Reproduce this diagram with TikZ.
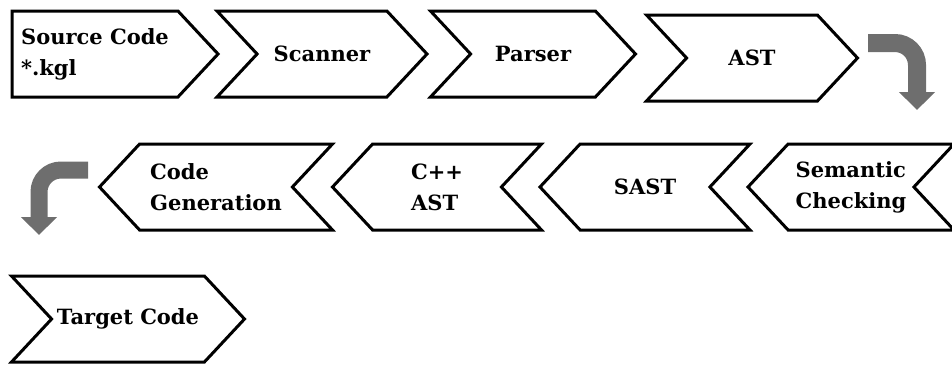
\documentclass[tikz,border=0pt]{standalone}
\usepackage{fontspec}
\setmainfont{DejaVu Serif}
\usetikzlibrary{shapes.symbols,arrows.meta}

\definecolor{turngray}{HTML}{6E6E6E}

\tikzset{
  stage/.style={signal, draw, line width=3pt, fill=white, minimum height=86pt,
    signal pointer angle=94, inner sep=0pt, align=left,
    font=\bfseries\fontsize{21}{31}\selectfont},
  fwd/.style={stage, signal to=east, signal from=west},
  bwd/.style={stage, signal to=west, signal from=east},
  turn/.style={draw=turngray, line width=18pt, rounded corners=22pt,
    -{Triangle[width=35pt,length=18pt]}}
}

\begin{document}
\begin{tikzpicture}[x=1pt,y=1pt]
  \useasboundingbox (0,0) rectangle (952,-365);

  % first row, left to right
  \node[fwd, signal from=nowhere, minimum width=206pt] (src) at (95,-54) {Source Code\\*.kgl};
  \node[fwd, minimum width=210pt] (scan) at (322,-54) {Scanner};
  \node[fwd, minimum width=205pt] (parse) at (533,-54) {Parser};
  \node[fwd, minimum width=211pt] (ast) at (752,-58) {AST};

  % second row, right to left
  \node[bwd, minimum width=206pt] (sem) at (851,-187) {Semantic\\Checking};
  \node[bwd, minimum width=210pt] (sast) at (645,-187) {SAST};
  \node[bwd, minimum width=209pt] (cast) at (437,-187) {C++\\AST};
  \node[bwd, minimum width=233pt] (gen) at (216,-187) {Code\\Generation};

  % last row
  \node[fwd, minimum width=233pt] (tgt) at (128,-319) {Target Code};

  % turns between rows
  \coordinate (turnA) at (868,-43);
  \coordinate (downA) at (917,-110);
  \draw[turn] (turnA) -| (downA);
  \coordinate (turnB) at (88,-170);
  \coordinate (downB) at (39,-235);
  \draw[turn, line width=17pt] (turnB) -| (downB);
\end{tikzpicture}
\end{document}
